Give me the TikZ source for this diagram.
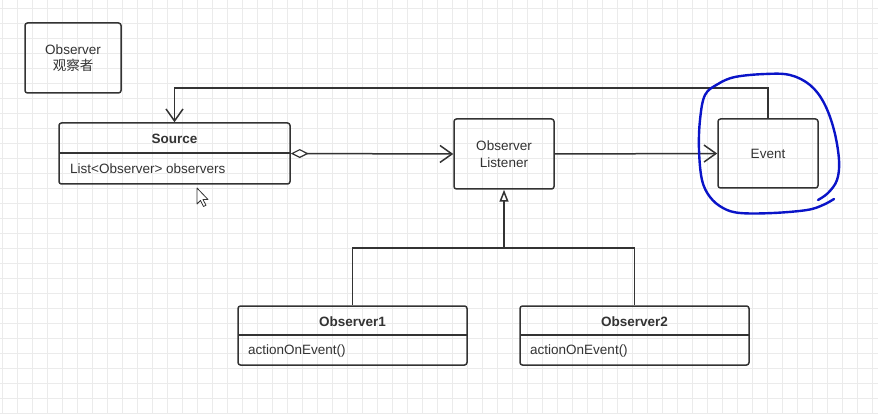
\documentclass[tikz,border=0pt]{standalone}
\usepackage{fontspec}
\setmainfont{Liberation Sans}
\newfontfamily\cjk{Noto Sans CJK SC}
\usepackage{tikz}
\usetikzlibrary{arrows.meta}
\definecolor{ink}{HTML}{333333}
\definecolor{gridgray}{HTML}{EBEBEB}
\definecolor{pen}{HTML}{0A14C8}
\tikzstyle{box}=[draw=ink, line width=1.5pt, rounded corners=2.5pt, inner sep=0pt, text=ink, align=center, font=\fontsize{13.5}{17}\selectfont]
\tikzstyle{title}=[text=ink, inner sep=0pt, font=\fontsize{13.5}{16}\selectfont\bfseries]
\tikzstyle{member}=[text=ink, inner sep=0pt, anchor=west, font=\fontsize{13.5}{16}\selectfont]
\tikzstyle{link}=[draw=ink, line width=1.5pt]
\tikzstyle{open arrow}=[link, -{Straight Barb[length=12pt, width=17pt, line width=1.5pt]}]
\tikzstyle{inherit}=[link, -{Triangle[open, fill=white, length=12pt, width=9pt, line width=1.5pt]}]

\begin{document}
\begin{tikzpicture}[x=1pt, y=-1pt]
  \useasboundingbox (0,0) rectangle (878,414);
  \fill[white] (0,0) rectangle (878,414);
  % grid
  \foreach \gx in {2,17,...,872} \draw[gridgray, line width=0.8pt] (\gx,0) -- (\gx,414);
  \foreach \gy in {8,23,...,413} \draw[gridgray, line width=0.8pt] (0,\gy) -- (878,\gy);

  % note box
  \node[box, minimum width=96, minimum height=70] (note) at (73,58) {Observer\\[-1pt]{\cjk 观察者}};

  % classes
  \node[box, minimum width=231, minimum height=61] (source) at (174.5,153.5) {};
  \node[title] (sourcename) at (174.5,139) {Source};
  \draw[link] (59,153) -- (290,153);
  \node[member] (sourceattr) at (70,169) {List<Observer> observers};

  \node[box, minimum width=100, minimum height=70] (listener) at (504,154) {Observer\\Listener};
  \node[box, minimum width=100, minimum height=69] (event) at (768,153.5) {Event};

  \node[box, minimum width=229, minimum height=59] (obs1) at (352.5,335.5) {};
  \node[title] (obs1name) at (352.5,322) {Observer1};
  \draw[link] (238,335) -- (467,335);
  \node[member] (obs1op) at (248,351) {actionOnEvent()};

  \node[box, minimum width=229, minimum height=59] (obs2) at (634.5,335.5) {};
  \node[title] (obs2name) at (634.5,322) {Observer2};
  \draw[link] (520,335) -- (749,335);
  \node[member] (obs2op) at (530,351) {actionOnEvent()};

  % connectors
  \draw[open arrow, {Diamond[open, fill=white, length=18pt, width=9pt, line width=1.2pt]}-{Straight Barb[length=12pt, width=17pt, line width=1.5pt]}] (source.east) -- (listener.west);
  \draw[open arrow] (listener.east) -- (event.west);
  \draw[open arrow] (event.north) -- ++(0,-30) -| (source.north);
  \coordinate (join) at (504,248);
  \draw[link] (obs1.north) |- (join) -| (obs2.north);
  \draw[inherit] (join) -- (listener.south);

  % hand-drawn ring
  \draw[pen, line width=2.4pt, line cap=round, line join=round] plot[smooth, tension=0.6] coordinates {
    (834,199) (823,205) (807,210) (773,213) (740,213) (723,208) (710,197) (702,180)
    (699,150) (700,120) (705,95) (718,84) (735,77) (765,74) (790,75) (810,85)
    (824,103) (834,130) (839,160) (837,180) (828,193) (818,200)};

  % mouse pointer
  \draw[ink, fill=white, line width=0.8pt, line join=round] (197,188) -- ++(0,16) -- ++(3.5,-3.5) -- ++(3,6) -- ++(2.5,-1.2) -- ++(-3,-5.8) -- ++(5,0) -- cycle;
\end{tikzpicture}
\end{document}
